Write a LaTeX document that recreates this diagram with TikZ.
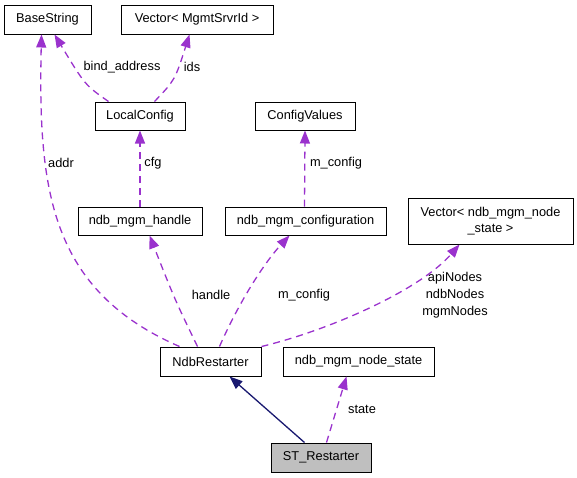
\documentclass[tikz,border=0pt]{standalone}
\usepackage{fontspec}
\setmainfont{Liberation Sans}
\usetikzlibrary{arrows.meta}
\definecolor{dep}{RGB}{154,50,205}
\definecolor{inh}{RGB}{25,25,112}
\definecolor{cur}{RGB}{191,191,191}
\tikzset{
  cls/.style={draw=black, line width=1pt, fill=white, inner sep=0pt, minimum height=29pt, font=\fontsize{12.8}{15.5}\selectfont, align=center},
  lbl/.style={inner sep=0pt, font=\fontsize{12.8}{17}\selectfont, align=center},
  depl/.style={draw=dep, line width=1.3pt, dash pattern=on 7pt off 5pt, -{Triangle[length=13pt,width=10pt,fill=dep]}},
  inhl/.style={draw=inh, line width=1.3pt, -{Triangle[length=13pt,width=10pt,fill=inh]}}
}
\begin{document}
\begin{tikzpicture}[x=1pt,y=-1pt]
\useasboundingbox (0,0) rectangle (577,477);
\node[cls, minimum width=87pt] (base) at (47.5,19.5) {BaseString};
\node[cls, minimum width=152pt] (vm) at (197,19.5) {Vector< MgmtSrvrId >};
\node[cls, minimum width=90pt, minimum height=28pt] (lc) at (140,116) {LocalConfig};
\node[cls, minimum width=100pt, minimum height=28pt] (cv) at (305,116) {ConfigValues};
\node[cls, minimum width=124pt, minimum height=28pt] (hdl) at (140,221) {ndb\_mgm\_handle};
\node[cls, minimum width=161pt, minimum height=28pt] (conf) at (305.5,221) {ndb\_mgm\_configuration};
\node[cls, minimum width=165pt, minimum height=46pt] (vn) at (490.5,221) {Vector< ndb\_mgm\_node\\\_state >};
\node[cls, minimum width=101pt] (ndbr) at (210.5,361.5) {NdbRestarter};
\node[cls, minimum width=151pt] (ns) at (358.5,361.5) {ndb\_mgm\_node\_state};
\node[cls, minimum width=100pt, fill=cur] (st) at (321,457.5) {ST\_Restarter};

\draw[depl] ([xshift=20pt]ndbr.north west) .. controls (50,290) and (38,190) .. ([xshift=38pt]base.south west);
\draw[depl] ([xshift=14pt]lc.north west) .. controls (85,85) .. ([xshift=51pt]base.south west);
\draw[depl] ([xshift=60pt]lc.north west) .. controls (175,80) .. ([xshift=69pt]vm.south west);
\draw[depl] (hdl.north) -- (lc.south);
\draw[depl] ([xshift=80pt]conf.north west) -- (cv.south);
\draw[depl] ([xshift=38pt]ndbr.north west) .. controls (175,300) .. ([xshift=72pt]hdl.south west);
\draw[depl] ([xshift=60pt]ndbr.north west) .. controls (240,300) and (265,262) .. ([xshift=65pt]conf.south west);
\draw[depl] (ndbr.north east) .. controls (330,330) and (420,290) .. ([xshift=52pt]vn.south west);
\draw[inhl] ([xshift=34pt]st.north west) -- ([xshift=70pt]ndbr.south west);
\draw[depl] ([xshift=56pt]st.north west) -- ([xshift=64pt]ns.south west);

\node[lbl] (laddr) at (61,163) {addr};
\node[lbl] (lbind) at (122,67) {bind\_address};
\node[lbl] (lids) at (192,67) {ids};
\node[lbl] (lcfg) at (153,163) {cfg};
\node[lbl] (lmc1) at (336,163) {m\_config};
\node[lbl] (lhdl) at (211,295) {handle};
\node[lbl] (lmc2) at (304,295) {m\_config};
\node[lbl] (lnodes) at (455,295) {apiNodes\\ndbNodes\\mgmNodes};
\node[lbl] (lstate) at (362,409) {state};
\end{tikzpicture}
\end{document}
